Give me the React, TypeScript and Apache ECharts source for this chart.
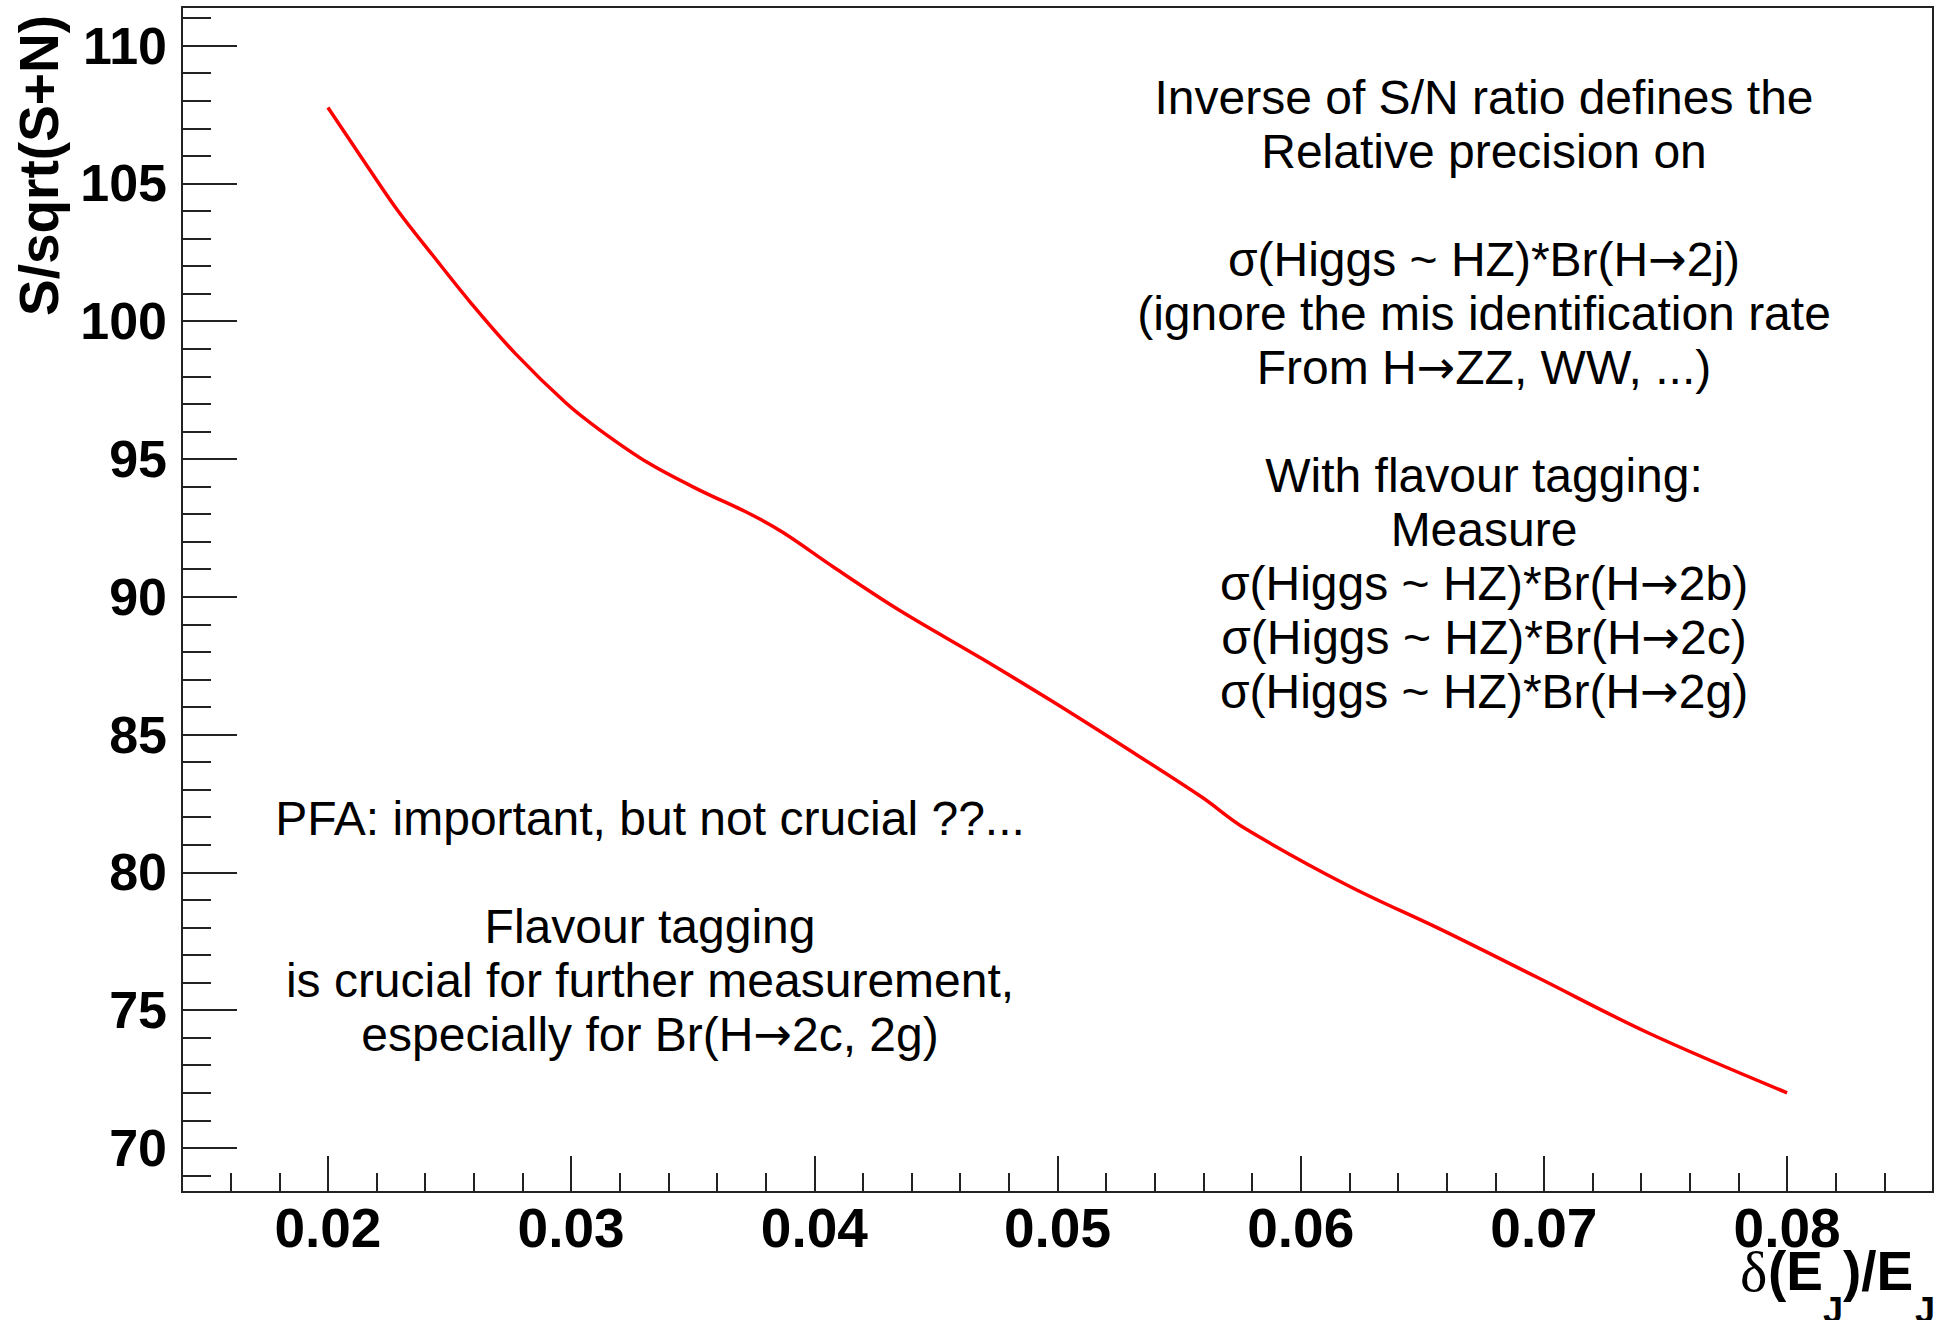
import React, { useEffect, useRef } from "react";
import * as echarts from "echarts";

// Jet energy resolution (x) against signal significance S/sqrt(S+N) (y)
const jetResolution = [
  0.02, 0.0216, 0.0229, 0.0243, 0.0259, 0.0277, 0.0298, 0.0312, 0.0332, 0.0353,
  0.0373, 0.0387, 0.0408, 0.0435, 0.0469, 0.0497, 0.0525, 0.0559, 0.0577, 0.0619,
  0.0658, 0.0697, 0.0743, 0.08,
];
const significance = [
  107.75, 105.65, 103.98, 102.4, 100.64, 98.83, 97.02, 96.04, 94.84, 93.86,
  93.03, 92.34, 91.07, 89.51, 87.75, 86.25, 84.69, 82.75, 81.6, 79.54,
  77.91, 76.2, 74.17, 72.0,
];

const xRange = [0.014, 0.086];
const yRange = [68.4, 111.4];
const xMajorTicks = [0.02, 0.03, 0.04, 0.05, 0.06, 0.07, 0.08];
const yMajorTicks = [70, 75, 80, 85, 90, 95, 100, 105, 110];

const rightNote = [
  "Inverse of S/N ratio defines the",
  "Relative precision on",
  "",
  "σ(Higgs ~ HZ)*Br(H→2j)",
  "(ignore the mis identification rate",
  "From H→ZZ, WW, ...)",
  "",
  "With flavour tagging:",
  "Measure",
  "σ(Higgs ~ HZ)*Br(H→2b)",
  "σ(Higgs ~ HZ)*Br(H→2c)",
  "σ(Higgs ~ HZ)*Br(H→2g)",
];
const leftNote = [
  "PFA: important, but not crucial ??...",
  "",
  "Flavour tagging",
  "is crucial for further measurement,",
  "especially for Br(H→2c, 2g)",
];

// minor tick positions on a regular sub-grid, skipping the major ones
function minorTicks(from: number, to: number, step: number, majors: number[], digits: number) {
  const out: number[] = [];
  const f = Math.pow(10, digits);
  for (let v = from; v <= to + step / 2; v += step) {
    const r = Math.round(v * f) / f;
    if (!majors.some((m) => Math.abs(m - r) < step / 10)) out.push(r);
  }
  return out;
}
const xMinorTicks = minorTicks(0.016, 0.084, 0.002, xMajorTicks, 4);
const yMinorTicks = minorTicks(69, 111, 1, yMajorTicks, 0);

const SANS = "'Liberation Sans', Arial, Helvetica, sans-serif";
const SERIF = "'Liberation Serif', 'DejaVu Serif', serif";
const ARROW_FONT = "'DejaVu Sans', sans-serif";
const INK = "#222";

// arrows are set in a font whose → is full width
const withArrows = (lines: string[]) => lines.map((l) => l.split("→").join("{a|→}")).join("\n");

function textEl(
  text: string,
  x: number,
  y: number,
  size: number,
  opts: {
    weight?: string;
    family?: string;
    align?: string;
    vAlign?: string;
    lineHeight?: number;
    rotation?: number;
    rich?: any;
  } = {}
) {
  const align = opts.align || "left";
  const vAlign = opts.vAlign || "middle";
  return {
    type: "text",
    x,
    y,
    rotation: opts.rotation || 0,
    silent: true,
    style: {
      text,
      fill: "#000",
      fontSize: size,
      fontWeight: opts.weight || "normal",
      fontFamily: opts.family || SANS,
      align,
      verticalAlign: vAlign,
      textAlign: align,
      textVerticalAlign: vAlign,
      lineHeight: opts.lineHeight,
      rich: opts.rich,
    },
  };
}

export default function App() {
  const ref = useRef<HTMLDivElement>(null);

  useEffect(() => {
    if (!ref.current) return;
    const chart = echarts.init(ref.current, undefined, { renderer: "svg" });

    const baseX = {
      type: "value",
      gridIndex: 0,
      position: "bottom",
      min: xRange[0],
      max: xRange[1],
      axisLine: { show: false },
      splitLine: { show: false },
    };
    const baseY = {
      type: "value",
      gridIndex: 0,
      position: "left",
      min: yRange[0],
      max: yRange[1],
      axisLine: { show: false },
      splitLine: { show: false },
    };

    const noteRich = {
      a: { fontFamily: ARROW_FONT, fontSize: 46, lineHeight: 54, fill: "#000" },
    };

    chart.setOption({
      animation: false,
      backgroundColor: "#fff",
      grid: {
        left: 182,
        right: 10,
        top: 7,
        bottom: 128,
        show: true,
        borderColor: INK,
        borderWidth: 2,
        backgroundColor: "transparent",
      },
      xAxis: [
        {
          ...baseX,
          axisTick: {
            show: true,
            inside: true,
            length: 36,
            customValues: xMajorTicks,
            lineStyle: { color: INK, width: 2 },
          },
          axisLabel: {
            show: true,
            customValues: xMajorTicks,
            formatter: (v: number) => v.toFixed(2),
            margin: 8,
            fontSize: 55,
            fontWeight: "bold",
            fontFamily: SANS,
            color: "#000",
          },
        },
        {
          ...baseX,
          axisTick: {
            show: true,
            inside: true,
            length: 19,
            customValues: xMinorTicks,
            lineStyle: { color: INK, width: 2 },
          },
          axisLabel: { show: false },
        },
      ],
      yAxis: [
        {
          ...baseY,
          axisTick: {
            show: true,
            inside: true,
            length: 55,
            customValues: yMajorTicks,
            lineStyle: { color: INK, width: 2 },
          },
          axisLabel: {
            show: true,
            customValues: yMajorTicks,
            formatter: (v: number) => String(Math.round(v)),
            margin: 15,
            fontSize: 52,
            fontWeight: "bold",
            fontFamily: SANS,
            color: "#000",
          },
        },
        {
          ...baseY,
          axisTick: {
            show: true,
            inside: true,
            length: 29,
            customValues: yMinorTicks,
            lineStyle: { color: INK, width: 2 },
          },
          axisLabel: { show: false },
        },
      ],
      series: [
        {
          type: "line",
          xAxisIndex: 0,
          yAxisIndex: 0,
          data: jetResolution.map((x, i) => [x, significance[i]]),
          showSymbol: false,
          smooth: 0.35,
          lineStyle: { color: "#ff0000", width: 3.5 },
          itemStyle: { color: "#ff0000" },
        },
      ],
      graphic: [
        // y-axis title, read bottom to top, ending at the top of the frame
        textEl("S/sqrt(S+N)", 39, 15, 55, {
          weight: "bold",
          align: "right",
          vAlign: "middle",
          rotation: Math.PI / 2,
        }),
        // x-axis title δ(E_J)/E_J
        textEl("δ", 1740, 1271, 58, { family: SERIF }),
        textEl("(E", 1768, 1271, 55, { weight: "bold" }),
        textEl("J", 1823, 1310, 36, { weight: "bold" }),
        textEl(")/E", 1843, 1271, 55, { weight: "bold" }),
        textEl("J", 1915, 1310, 36, { weight: "bold" }),
        // annotations
        textEl(withArrows(rightNote), 1484, 70, 48, {
          align: "center",
          vAlign: "top",
          lineHeight: 54,
          rich: noteRich,
        }),
        textEl(withArrows(leftNote), 650, 791, 48, {
          align: "center",
          vAlign: "top",
          lineHeight: 54,
          rich: noteRich,
        }),
      ],
    });

    return () => chart.dispose();
  }, []);

  return (
    <div
      ref={ref}
      style={{ position: "absolute", left: 0, top: 0, width: 1943, height: 1320, background: "#fff" }}
    />
  );
}
